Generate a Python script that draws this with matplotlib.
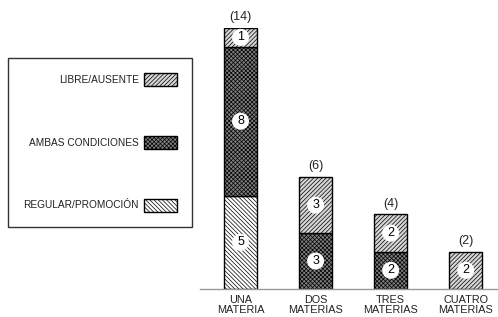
import matplotlib
matplotlib.use("Agg")
import matplotlib.pyplot as plt
from matplotlib.patches import Patch
import numpy as np

plt.rcParams['font.family'] = ['Liberation Sans', 'DejaVu Sans']
plt.rcParams['hatch.linewidth'] = 0.5
plt.rcParams['hatch.color'] = '#3a3a3a'

categories = ["UNA\nMATERIA", "DOS\nMATERIAS", "TRES\nMATERIAS", "CUATRO\nMATERIAS"]
regular = [5, 0, 0, 0]
ambas = [8, 3, 2, 0]
libre = [1, 3, 2, 2]
totals = ["(14)", "(6)", "(4)", "(2)"]

series = [
    ("REGULAR/PROMOCIÓN", regular, "white", "\\" * 8),
    ("AMBAS CONDICIONES", ambas, "#808080", "x" * 8),
    ("LIBRE/AUSENTE", libre, "#d6d6d6", "/" * 8),
]

W, H = 498, 317
fig = plt.figure(figsize=(W / 100, H / 100), dpi=100)
ax = fig.add_axes([200 / W, 28 / H, 298 / W, 261 / H])

x = np.arange(len(categories))
bottom = np.zeros(len(categories))
for name, vals, color, hatch in series:
    vals = np.array(vals, dtype=float)
    ax.bar(x, vals, width=0.44, bottom=bottom, color=color, edgecolor="black",
           linewidth=1.0, hatch=hatch, zorder=2)
    for xi, v, b in zip(x, vals, bottom):
        if v > 0:
            ax.text(xi, b + v / 2, f"{int(v)}", ha="center", va="center", fontsize=9,
                    color="black", zorder=5,
                    bbox=dict(boxstyle="circle,pad=0.2", fc="white", ec="none"))
    bottom += vals

for xi, tot, t in zip(x, bottom, totals):
    ax.annotate(t, (xi, tot), xytext=(0, 3.5), textcoords="offset points",
                ha="center", va="bottom", fontsize=9, color="#222222", annotation_clip=False)

ax.set_xlim(-0.54, 3.43)
ax.set_ylim(0, 14)
ax.set_xticks(x)
ax.set_xticklabels(categories, fontsize=7.8, color="#222222", linespacing=1.0)
ax.tick_params(axis="x", length=0, pad=4)
ax.set_yticks([])
for s in ["top", "right", "left"]:
    ax.spines[s].set_visible(False)
ax.spines["bottom"].set_color("#999999")
ax.spines["bottom"].set_linewidth(1.0)
ax.patch.set_alpha(0)

handles = [Patch(facecolor=c, edgecolor="black", hatch=h, linewidth=1.0, label=n)
           for n, _, c, h in series[::-1]]
leg = fig.legend(handles=handles, loc="upper left", bbox_to_anchor=(8 / W, 1 - 58 / H),
                 bbox_transform=fig.transFigure, markerfirst=False, frameon=True,
                 fancybox=False, edgecolor="black", fontsize=7.3, handlelength=3.3,
                 handleheight=1.6, labelspacing=4.9, handletextpad=0.5,
                 borderpad=1.5, borderaxespad=0)
leg.get_frame().set_linewidth(1.0)
for t in leg.get_texts():
    t.set_color("#222222")

fig.savefig("out.png", dpi=100)
